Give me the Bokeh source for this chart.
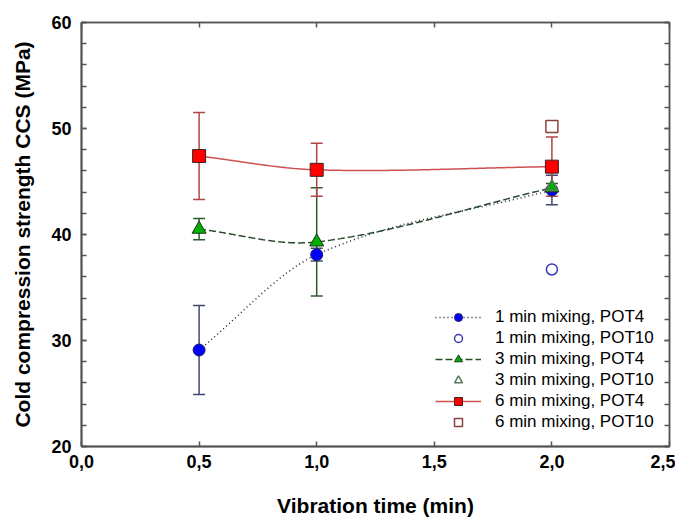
import numpy as np
from bokeh.plotting import figure
from bokeh.models import (ColumnDataSource, Whisker, TeeHead, Legend, LegendItem,
                          LinearAxis, FixedTicker, CustomJSTickFormatter, Range1d)
from bokeh.embed import file_html
from bokeh.resources import INLINE

# ---------------- data ----------------
vib_time = [0.5, 1.0, 2.0]

ccs_1min_pot4 = [29.1, 38.1, 44.2]
err_1min_pot4 = [4.2, 0.6, 1.4]

ccs_3min_pot4 = [40.5, 39.3, 44.4]
err_3min_pot4 = [1.0, 5.1, 0.4]

ccs_6min_pot4 = [47.4, 46.1, 46.4]
err_6min_pot4 = [4.1, 2.5, 2.8]

vib_time_pot10 = [2.0]
ccs_1min_pot10 = [36.7]
ccs_3min_pot10 = [44.5]
ccs_6min_pot10 = [50.2]

x_ticks = [0.0, 0.5, 1.0, 1.5, 2.0, 2.5]
y_ticks = [20, 30, 40, 50, 60]
y_minor = [20, 22, 24, 26, 28, 30, 32, 34, 36, 38, 40, 42, 44, 46, 48, 50,
           52, 54, 56, 58, 60]


def smooth_curve(x, y, n=120):
    """Cubic Hermite curve through the points (Catmull-Rom interior slopes)."""
    x = np.asarray(x, float)
    y = np.asarray(y, float)
    k = len(x)
    sec = np.diff(y) / np.diff(x)
    m = np.empty(k)
    m[0] = sec[0]
    m[-1] = sec[-1]
    for i in range(1, k - 1):
        m[i] = (y[i + 1] - y[i - 1]) / (x[i + 1] - x[i - 1])
    xs_all, ys_all = [], []
    for i in range(k - 1):
        h = x[i + 1] - x[i]
        t = np.linspace(0, 1, n)
        h00 = 2 * t ** 3 - 3 * t ** 2 + 1
        h10 = t ** 3 - 2 * t ** 2 + t
        h01 = -2 * t ** 3 + 3 * t ** 2
        h11 = t ** 3 - t ** 2
        xs_all.append(x[i] + t * h)
        ys_all.append(h00 * y[i] + h10 * h * m[i] + h01 * y[i + 1] + h11 * h * m[i + 1])
    return np.concatenate(xs_all), np.concatenate(ys_all)


p = figure(width=675, height=523, output_backend="svg", toolbar_location=None,
           x_range=Range1d(0, 2.5), y_range=Range1d(20, 60),
           min_border_left=81, min_border_right=6, min_border_top=22,
           min_border_bottom=77)
p.background_fill_color = "white"
p.border_fill_color = "white"
p.outline_line_color = "#555555"
p.outline_line_width = 1.5
p.xgrid.visible = False
p.ygrid.visible = False

FONT = "Liberation Sans"
AX_COL = "#555555"

bottom_ax = p.below[0]
left_ax = p.left[0]

bottom_ax.ticker = FixedTicker(ticks=x_ticks)
bottom_ax.formatter = CustomJSTickFormatter(code="return tick.toFixed(1).replace('.', ',');")
left_ax.ticker = FixedTicker(ticks=y_ticks, minor_ticks=y_minor)

# mirror axes
top_ax = LinearAxis(ticker=FixedTicker(ticks=x_ticks),
                    formatter=CustomJSTickFormatter(code="return '';"))
right_ax = LinearAxis(ticker=FixedTicker(ticks=y_ticks, minor_ticks=y_minor),
                      formatter=CustomJSTickFormatter(code="return '';"))
p.add_layout(top_ax, "above")
p.add_layout(right_ax, "right")

for ax in [bottom_ax, left_ax, top_ax, right_ax]:
    ax.axis_line_color = AX_COL
    ax.axis_line_width = 2
    ax.major_tick_line_color = AX_COL
    ax.minor_tick_line_color = AX_COL
    ax.major_tick_line_width = 1.5
    ax.minor_tick_line_width = 1.5
    ax.major_tick_in = 5
    ax.major_tick_out = 0
    ax.minor_tick_in = 5
    ax.minor_tick_out = 0
    ax.major_label_text_font = FONT
    ax.major_label_text_font_style = "bold"
    ax.major_label_text_font_size = "18px"
    ax.major_label_text_color = "black"

for ax in [top_ax, right_ax]:
    ax.major_label_text_font_size = "0px"
    ax.major_label_standoff = 0
    ax.axis_line_width = 1.5

bottom_ax.major_label_standoff = 8
left_ax.major_label_standoff = 10
bottom_ax.axis_label = "Vibration time (min)"
left_ax.axis_label = "Cold compression strength CCS (MPa)"
for ax in [bottom_ax, left_ax]:
    ax.axis_label_text_font = FONT
    ax.axis_label_text_font_style = "bold"
    ax.axis_label_text_font_size = "21px"
    ax.axis_label_text_color = "black"
bottom_ax.axis_label_standoff = 23
left_ax.axis_label_standoff = 14


def add_err(xv, yv, ev, color):
    src = ColumnDataSource(dict(x=xv, lower=[a - b for a, b in zip(yv, ev)],
                                upper=[a + b for a, b in zip(yv, ev)]))
    w = Whisker(source=src, base="x", lower="lower", upper="upper",
                line_color=color, line_width=1.5,
                lower_head=TeeHead(size=12, line_color=color, line_width=1.5),
                upper_head=TeeHead(size=12, line_color=color, line_width=1.5))
    p.add_layout(w)


# smooth connecting curves
xs, ys = smooth_curve(vib_time, ccs_1min_pot4)
l1 = p.line(xs, ys, line_color="#202040", line_width=1.5, line_dash="1 3")
xs, ys = smooth_curve(vib_time, ccs_3min_pot4)
l3 = p.line(xs, ys, line_color="#2a4a2a", line_width=1.5, line_dash="7 3")
xs, ys = smooth_curve(vib_time, ccs_6min_pot4)
l6 = p.line(xs, ys, line_color="#d05050", line_width=1.5)

add_err(vib_time, ccs_1min_pot4, err_1min_pot4, "#404870")
add_err(vib_time, ccs_3min_pot4, err_3min_pot4, "#2f5a2f")
add_err(vib_time, ccs_6min_pot4, err_6min_pot4, "#b04545")

m1 = p.scatter(vib_time, ccs_1min_pot4, marker="circle", size=12,
               fill_color="#0000ff", line_color="#202060", line_width=1)
m3 = p.scatter(vib_time, ccs_3min_pot4, marker="triangle", size=14,
               fill_color="#00b000", line_color="#1a3a1a", line_width=1)
m6 = p.scatter(vib_time, ccs_6min_pot4, marker="square", size=13,
               fill_color="#ff0000", line_color="#402020", line_width=1)

o1 = p.scatter(vib_time_pot10, ccs_1min_pot10, marker="circle", size=11,
               fill_color=None, line_color="#3a3ab0", line_width=1.5)
o3 = p.scatter(vib_time_pot10, ccs_3min_pot10, marker="triangle", size=12,
               fill_color=None, line_color="#5a7a5a", line_width=1.5)
o6 = p.scatter(vib_time_pot10, ccs_6min_pot10, marker="square", size=12,
               fill_color=None, line_color="#8b4040", line_width=1.5)

legend = Legend(items=[
    LegendItem(label="1 min mixing, POT4", renderers=[l1, m1]),
    LegendItem(label="1 min mixing, POT10", renderers=[o1]),
    LegendItem(label="3 min mixing, POT4", renderers=[l3, m3]),
    LegendItem(label="3 min mixing, POT10", renderers=[o3]),
    LegendItem(label="6 min mixing, POT4", renderers=[l6, m6]),
    LegendItem(label="6 min mixing, POT10", renderers=[o6]),
], location=(354, 14))
legend.border_line_color = None
legend.background_fill_alpha = 0
legend.padding = 0
legend.margin = 0
legend.spacing = 1
legend.label_height = 20
legend.glyph_height = 20
legend.glyph_width = 46
legend.label_standoff = 14
legend.label_text_font = FONT
legend.label_text_font_size = "17px"
legend.label_text_color = "black"
p.add_layout(legend, "center")

open("out.html", "w").write(file_html(p, INLINE))
